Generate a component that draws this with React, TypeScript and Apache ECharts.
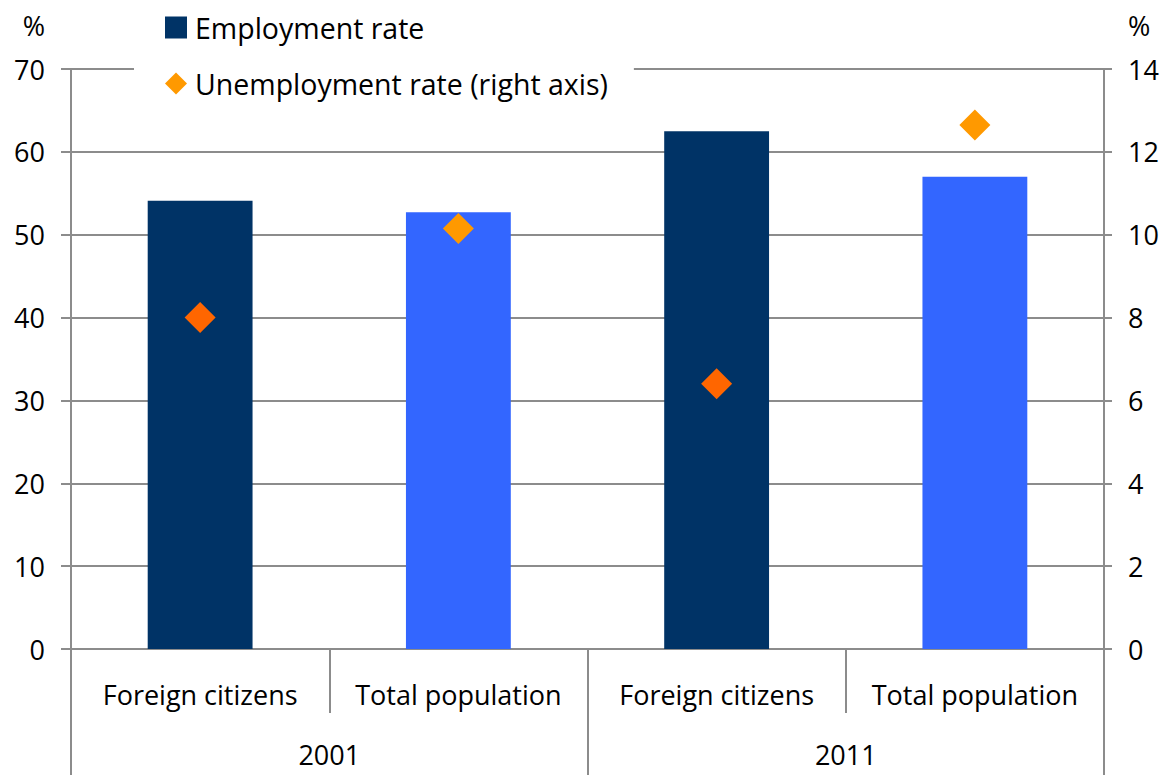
import React, { useEffect, useRef } from "react";
import * as echarts from "echarts";

const categories = ["Foreign citizens", "Total population", "Foreign citizens", "Total population"];
const years = ["2001", "2011"];
const employmentRate = [54.1, 52.7, 62.5, 57.0];
const unemploymentRate = [8.0, 10.15, 6.4, 12.65];
const barColors = ["#003366", "#3366FF", "#003366", "#3366FF"];
const diamondColors = ["#FF6600", "#FF9900", "#FF6600", "#FF9900"];

const FONT = "'Open Sans', sans-serif";
const GRAY = "#8C8C8C";
const FS = 27;

export default function App() {
  const ref = useRef<HTMLDivElement>(null);
  useEffect(() => {
    const chart = echarts.init(ref.current!, null, { renderer: "svg" });
    chart.setOption({
      animation: false,
      textStyle: { fontFamily: FONT, color: "#000" },
      grid: { left: 71, right: 58, top: 69, bottom: 126, containLabel: false },
      legend: {
        orient: "vertical",
        left: 134,
        top: 7,
        backgroundColor: "#fff",
        padding: [6, 26, 6, 31],
        itemWidth: 22,
        itemHeight: 22,
        itemGap: 27,
        textStyle: { fontSize: 28.5, fontFamily: FONT, color: "#000", padding: [0, 0, 0, 3] },
        data: [
          { name: "Employment rate", icon: "rect", itemStyle: { color: "#003366" } },
          { name: "Unemployment rate (right axis)", icon: "diamond", itemStyle: { color: "#FF9900" } },
        ],
      },
      xAxis: [
        {
          type: "category",
          data: categories,
          position: "bottom",
          axisLine: { lineStyle: { color: GRAY, width: 2 } },
          axisTick: { show: true, interval: 0, length: 64, lineStyle: { color: GRAY, width: 2 } },
          axisLabel: { interval: 0, fontSize: FS, color: "#000", margin: 32, fontFamily: FONT },
        },
        {
          type: "category",
          data: years,
          position: "bottom",
          axisLine: { show: false },
          axisTick: { show: true, interval: 0, length: 126, lineStyle: { color: GRAY, width: 2 } },
          axisLabel: { interval: 0, fontSize: FS, color: "#000", margin: 92, fontFamily: FONT },
        },
      ],
      yAxis: [
        {
          type: "value",
          min: 0,
          max: 70,
          interval: 10,
          name: "%",
          nameLocation: "end",
          nameGap: 30,
          nameTextStyle: { fontSize: FS, color: "#000", align: "right", padding: [0, 26, 0, 0], fontFamily: FONT },
          axisLine: { show: true, lineStyle: { color: GRAY, width: 2 } },
          axisTick: { show: true, length: 10, lineStyle: { color: GRAY, width: 2 } },
          axisLabel: { fontSize: FS, color: "#000", margin: 26, fontFamily: FONT },
          splitLine: { show: true, lineStyle: { color: GRAY, width: 2 } },
        },
        {
          type: "value",
          min: 0,
          max: 14,
          interval: 2,
          position: "right",
          name: "%",
          nameLocation: "end",
          nameGap: 30,
          nameTextStyle: { fontSize: FS, color: "#000", align: "left", padding: [0, 0, 0, 24], fontFamily: FONT },
          axisLine: { show: true, lineStyle: { color: GRAY, width: 2 } },
          axisTick: { show: true, length: 8, lineStyle: { color: GRAY, width: 2 } },
          axisLabel: { fontSize: FS, color: "#000", margin: 24, fontFamily: FONT },
          splitLine: { show: false },
        },
      ],
      series: [
        {
          name: "Employment rate",
          type: "bar",
          xAxisIndex: 0,
          yAxisIndex: 0,
          barWidth: "40.6%",
          data: employmentRate.map((v, i) => ({ value: v, itemStyle: { color: barColors[i] } })),
        },
        {
          name: "Unemployment rate (right axis)",
          type: "scatter",
          xAxisIndex: 0,
          yAxisIndex: 1,
          symbol: "diamond",
          symbolSize: 31,
          z: 5,
          itemStyle: { opacity: 1 },
          data: unemploymentRate.map((v, i) => ({ value: v, itemStyle: { color: diamondColors[i], opacity: 1 } })),
        },
      ],
    });
    return () => chart.dispose();
  }, []);
  return <div ref={ref} style={{ width: 1162, height: 775, position: "absolute", left: 0, top: 0 }} />;
}
